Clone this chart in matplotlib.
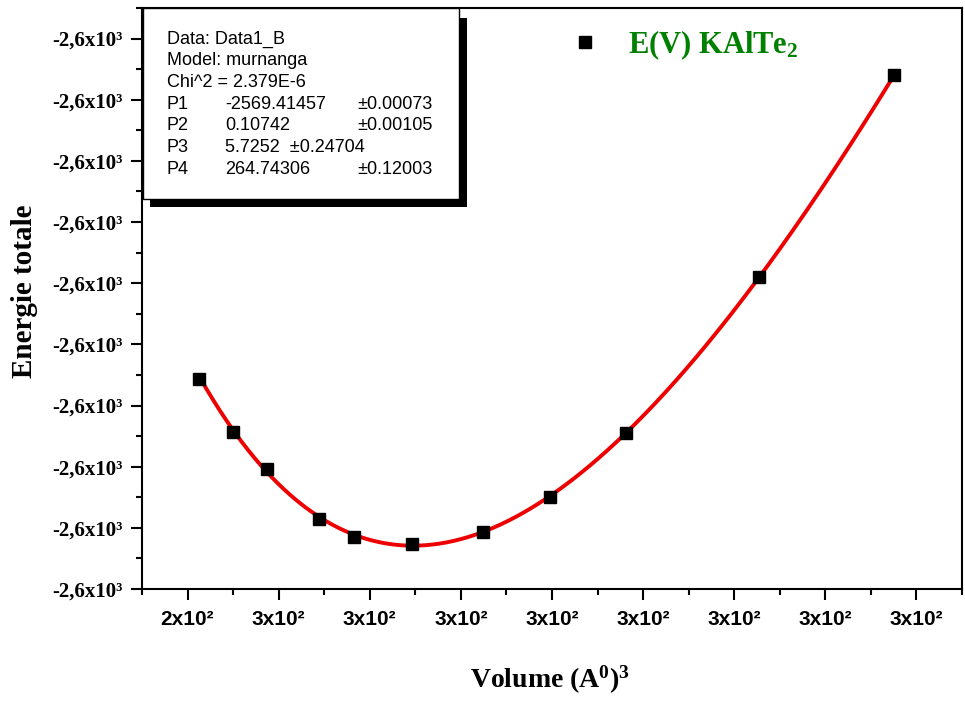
import numpy as np
import matplotlib.pyplot as plt
from matplotlib.patches import Rectangle
from matplotlib.ticker import MultipleLocator

plt.rcParams['mathtext.fontset'] = 'custom'
plt.rcParams['mathtext.rm'] = 'Liberation Serif:bold'
plt.rcParams['mathtext.bf'] = 'Liberation Serif:bold'
plt.rcParams['mathtext.it'] = 'Liberation Serif:bold'

# E(V) points for KAlTe2
volume = [241.3, 245.0, 248.7, 254.4, 258.3, 264.6, 272.4, 279.8, 288.1, 302.7, 317.5]
energy = [-2569.2782, -2569.3215, -2569.3518, -2569.3927, -2569.4074, -2569.4132,
          -2569.4034, -2569.3747, -2569.3223, -2569.1947, -2569.0294]

# Murnaghan fit parameters (P1=E0, P2=B0, P3=B0', P4=V0)
p1, p2, p3, p4 = -2569.41457, 0.10742, 5.7252, 264.74306

x_ticks = [240, 250, 260, 270, 280, 290, 300, 310, 320]
x_labels = ['2x10²', '3x10²', '3x10²', '3x10²', '3x10²', '3x10²', '3x10²', '3x10²', '3x10²']
y_ticks = [-2569.45, -2569.40, -2569.35, -2569.30, -2569.25, -2569.20, -2569.15,
           -2569.10, -2569.05, -2569.00]
y_labels = ['-2,6x10³'] * len(y_ticks)

fit_lines = [
    ('Data: Data1_B', '', ''),
    ('Model: murnanga', '', ''),
    ('Chi^2 = 2.379E-6', '', ''),
    ('P1', '-2569.41457', '±0.00073'),
    ('P2', '0.10742', '±0.00105'),
    ('P3', '5.7252  ±0.24704', ''),
    ('P4', '264.74306', '±0.12003'),
]


def murnaghan(v):
    return (p1 + p2 * v / p3 * ((p4 / v) ** p3 / (p3 - 1) + 1)
            - p2 * p4 / (p3 - 1))


W, H = 965, 702
fig = plt.figure(figsize=(W / 100, H / 100), dpi=100)
ax = fig.add_axes([142 / W, 1 - 589 / H, 820 / W, 581 / H])

vv = np.linspace(volume[0], volume[-1], 400)
ax.plot(vv, murnaghan(vv), color='#ee0000', lw=2.8, zorder=2)
ax.plot(volume, energy, 's', color='black', ms=9, ls='none',
        label=r'E(V) KAlTe$_{\mathbf{2}}$', zorder=3)

ax.set_xlim(235, 325)
ax.set_ylim(-2569.45, -2568.975)
ax.set_xticks(x_ticks)
ax.set_xticklabels(x_labels, fontfamily='Liberation Sans', fontweight='bold', fontsize=15)
ax.set_yticks(y_ticks)
ax.set_yticklabels(y_labels, fontfamily='Liberation Serif', fontweight='bold', fontsize=15)
ax.xaxis.set_minor_locator(MultipleLocator(5))
ax.yaxis.set_minor_locator(MultipleLocator(0.025))
ax.tick_params(which='major', direction='out', length=8, width=1.5, pad=6)
ax.tick_params(which='minor', direction='out', length=4, width=1.5)
ax.tick_params(axis='x', pad=7)
for s in ax.spines.values():
    s.set_linewidth(1.5)

fig.text(550 / W, 1 - 680 / H, r'Volume (A$^{0}$)$^{3}$', ha='center', va='center',
         fontsize=20, fontfamily='Liberation Serif', fontweight='bold')
fig.text(25 / W, 1 - 291 / H, 'Energie totale', ha='center', va='center', rotation=90,
         fontsize=21, fontfamily='Liberation Serif', fontweight='bold')

leg = ax.legend(loc='center left', bbox_to_anchor=(573 / W, 1 - 45 / H),
                bbox_transform=fig.transFigure, frameon=False, borderpad=0,
                borderaxespad=0, handlelength=0.8, handletextpad=1.0,
                labelcolor='#008000',
                prop={'family': 'Liberation Serif', 'weight': 'bold', 'size': 22})

# fit report box with drop shadow
fig.add_artist(Rectangle((150 / W, 1 - 207 / H), 317 / W, 189 / H,
                         transform=fig.transFigure, facecolor='black',
                         edgecolor='none', zorder=4))
fig.add_artist(Rectangle((143 / W, 1 - 199 / H), 316 / W, 191 / H,
                         transform=fig.transFigure, facecolor='white',
                         edgecolor='black', lw=1, zorder=5))
for i, (a, b, c) in enumerate(fit_lines):
    y = 1 - (39 + i * 21.7) / H
    kw = dict(fontsize=13, fontfamily='Liberation Sans', va='center', zorder=6)
    fig.text(167 / W, y, a, **kw)
    if b:
        fig.text(225 / W, y, b, **kw)
    if c:
        fig.text(357 / W, y, c, **kw)

fig.savefig('out.png', dpi=100)
